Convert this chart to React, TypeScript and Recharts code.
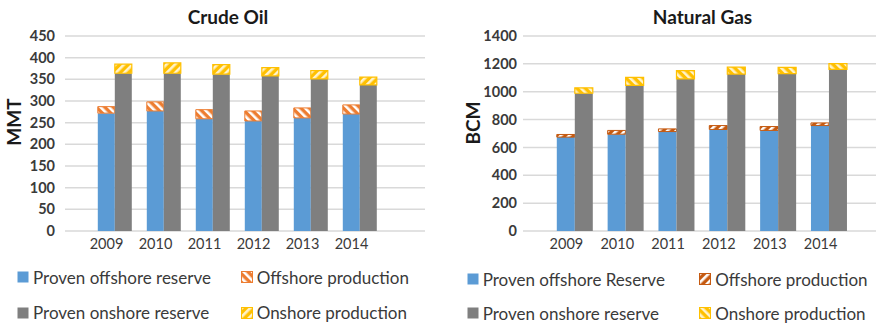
import React from 'react';
import { BarChart, Bar, XAxis, YAxis, CartesianGrid } from 'recharts';

// Years on the category axis
const years = ['2009', '2010', '2011', '2012', '2013', '2014'];

// Crude oil (MMT)
const crudeOffshoreReserve = [272, 277, 259, 254, 261, 270];
const crudeOffshoreProduction = [15, 21, 21, 23, 23, 21];
const crudeOnshoreReserve = [364, 364, 362, 358, 351, 337];
const crudeOnshoreProduction = [21, 24, 22, 19, 19, 18];
const crudeTicks = [0, 50, 100, 150, 200, 250, 300, 350, 400, 450];

// Natural gas (BCM)
const gasOffshoreReserve = [674, 695, 714, 729, 722, 757];
const gasOffshoreProduction = [19, 27, 19, 28, 28, 19];
const gasOnshoreReserve = [989, 1046, 1092, 1127, 1130, 1160];
const gasOnshoreProduction = [39, 57, 59, 50, 45, 41];
const gasTicks = [0, 200, 400, 600, 800, 1000, 1200, 1400];

const crudeLegend = [
  ['Proven offshore reserve', 'url(#blueFill)'],
  ['Offshore production', 'url(#crudeOffProd)'],
  ['Proven onshore reserve', 'url(#greyFill)'],
  ['Onshore production', 'url(#crudeOnProd)'],
];
const gasLegend = [
  ['Proven offshore Reserve', 'url(#blueFill)'],
  ['Offshore production', 'url(#gasOffProd)'],
  ['Proven onshore reserve', 'url(#greyFill)'],
  ['Onshore production', 'url(#gasOnProd)'],
];

const FONT = "Lato, 'Open Sans', sans-serif";
const BLUE = '#5b9bd5';
const GREY = '#7f7f7f';
const ORANGE = '#ed7d31';
const DARK_ORANGE = '#c55a11';
const YELLOW = '#ffc000';
const GRID = '#d9d9d9';
const TEXT = '#3a3a3a';

const buildRows = (a: number[], b: number[], c: number[], d: number[]) =>
  years.map((year, i) => ({
    year,
    offReserve: a[i],
    offProd: b[i],
    onReserve: c[i],
    onProd: d[i],
  }));

const crudeRows = buildRows(crudeOffshoreReserve, crudeOffshoreProduction, crudeOnshoreReserve, crudeOnshoreProduction);
const gasRows = buildRows(gasOffshoreReserve, gasOffshoreProduction, gasOnshoreReserve, gasOnshoreProduction);

const Stripes = ({ id, color, angle, light }: { id: string; color: string; angle: number; light?: boolean }) => (
  <pattern id={id} width="6" height="6" patternUnits="userSpaceOnUse" patternTransform={`rotate(${angle})`}>
    <rect width="6" height="6" fill={color} />
    <rect width="2.6" height="6" fill={light ? '#fff3cc' : '#ffffff'} />
  </pattern>
);

const YearTick = (props: any) => {
  const { x, y, payload } = props;
  return (
    <text x={x - 8} y={y} dy="0.71em" textAnchor="middle" fill={TEXT} fontSize={14.5} fontFamily={FONT}>
      {payload.value}
    </text>
  );
};

const strokeFor = (fill: string) =>
  fill.includes('gasOff') ? DARK_ORANGE : fill.includes('Off') ? ORANGE : YELLOW;

const Legend4 = ({ items, left, cols, rows }: { items: string[][]; left: number; cols: number[]; rows: number[] }) => (
  <>
    {items.map(([label, fill], i) => {
      const col = cols[i % 2];
      const row = rows[Math.floor(i / 2)];
      return (
        <div
          key={label}
          style={{
            position: 'absolute',
            left: left + col,
            top: row - 10,
            height: 20,
            display: 'flex',
            alignItems: 'center',
            fontFamily: FONT,
            fontSize: 17,
            color: TEXT,
            whiteSpace: 'nowrap',
          }}
        >
          <svg width={12} height={12} style={{ marginRight: 4 }}>
            <rect x={0.5} y={0.5} width={11} height={11} fill={fill} stroke={i % 2 === 1 ? strokeFor(fill) : 'none'} />
          </svg>
          {label}
        </div>
      );
    })}
  </>
);

const Panel = ({
  rows,
  ticks,
  max,
  yWidth,
  width,
  tickMargin,
  padding,
  offFill,
  onFill,
  offStroke,
}: {
  rows: any[];
  ticks: number[];
  max: number;
  yWidth: number;
  width: number;
  tickMargin: number;
  padding: { left: number; right: number };
  offFill: string;
  onFill: string;
  offStroke: string;
}) => (
  <BarChart
    width={width}
    height={323}
    data={rows}
    margin={{ top: 36, right: 0, left: 0, bottom: 0 }}
    barCategoryGap={7.8}
    barGap={0}
  >
    <CartesianGrid vertical={false} stroke={GRID} strokeWidth={1.5} />
    <XAxis
      dataKey="year"
      axisLine={false}
      tickLine={false}
      tick={<YearTick />}
      height={92}
      interval={0}
      padding={padding}
    />
    <YAxis
      domain={[0, max]}
      ticks={ticks}
      width={yWidth}
      axisLine={false}
      tickLine={false}
      tickMargin={tickMargin}
      tick={{ fill: TEXT, fontSize: 14.5, fontWeight: 700, fontFamily: FONT }}
      interval={0}
    />
    <Bar dataKey="offReserve" stackId="off" fill={BLUE} isAnimationActive={false} />
    <Bar dataKey="offProd" stackId="off" fill={offFill} stroke={offStroke} strokeWidth={1} isAnimationActive={false} />
    <Bar dataKey="onReserve" stackId="on" fill={GREY} isAnimationActive={false} />
    <Bar dataKey="onProd" stackId="on" fill={onFill} stroke={YELLOW} strokeWidth={1.2} isAnimationActive={false} />
  </BarChart>
);

const titleStyle: React.CSSProperties = {
  position: 'absolute',
  width: 200,
  top: 5,
  textAlign: 'center',
  fontFamily: FONT,
  fontWeight: 700,
  fontSize: 19,
  color: '#1a1a1a',
};

const axisTitleStyle: React.CSSProperties = {
  position: 'absolute',
  width: 80,
  height: 24,
  lineHeight: '24px',
  textAlign: 'center',
  transform: 'rotate(-90deg)',
  fontFamily: FONT,
  fontWeight: 700,
  fontSize: 19,
  color: '#1a1a1a',
};

export default function App() {
  return (
    <div style={{ position: 'absolute', left: 0, top: 0, width: 876, height: 323, background: '#fff', overflow: 'hidden' }}>
      <svg width={0} height={0} style={{ position: 'absolute' }}>
        <defs>
          <pattern id="blueFill" width="4" height="4" patternUnits="userSpaceOnUse">
            <rect width="4" height="4" fill={BLUE} />
          </pattern>
          <pattern id="greyFill" width="4" height="4" patternUnits="userSpaceOnUse">
            <rect width="4" height="4" fill={GREY} />
          </pattern>
          <Stripes id="crudeOffProd" color={ORANGE} angle={-45} />
          <Stripes id="crudeOnProd" color={YELLOW} angle={45} light />
          <Stripes id="gasOffProd" color={DARK_ORANGE} angle={45} />
          <Stripes id="gasOnProd" color={YELLOW} angle={-45} light />
        </defs>
      </svg>

      {/* Crude oil panel */}
      <div style={{ position: 'absolute', left: 0, top: 0 }}>
        <Panel
          rows={crudeRows}
          ticks={crudeTicks}
          max={450}
          yWidth={65}
          width={425}
          tickMargin={4}
          padding={{ left: 25, right: 41 }}
          offFill="url(#crudeOffProd)"
          onFill="url(#crudeOnProd)"
          offStroke={ORANGE}
        />
      </div>

      {/* Natural gas panel */}
      <div style={{ position: 'absolute', left: 440, top: 0 }}>
        <Panel
          rows={gasRows}
          ticks={gasTicks}
          max={1400}
          yWidth={83}
          width={436}
          tickMargin={0}
          padding={{ left: 26, right: 22 }}
          offFill="url(#gasOffProd)"
          onFill="url(#gasOnProd)"
          offStroke={DARK_ORANGE}
        />
      </div>

      <div style={{ ...titleStyle, left: 128 }}>Crude Oil</div>
      <div style={{ ...titleStyle, left: 602.5 }}>Natural Gas</div>

      <div style={{ ...axisTitleStyle, left: 13.5 - 40, top: 122 - 12 }}>MMT</div>
      <div style={{ ...axisTitleStyle, left: 472.7 - 40, top: 123 - 12 }}>BCM</div>

      <Legend4 items={crudeLegend} left={0} cols={[17, 240.7]} rows={[277, 312.5]} />
      <Legend4 items={gasLegend} left={440} cols={[26.7, 259.3]} rows={[279, 313]} />
    </div>
  );
}
